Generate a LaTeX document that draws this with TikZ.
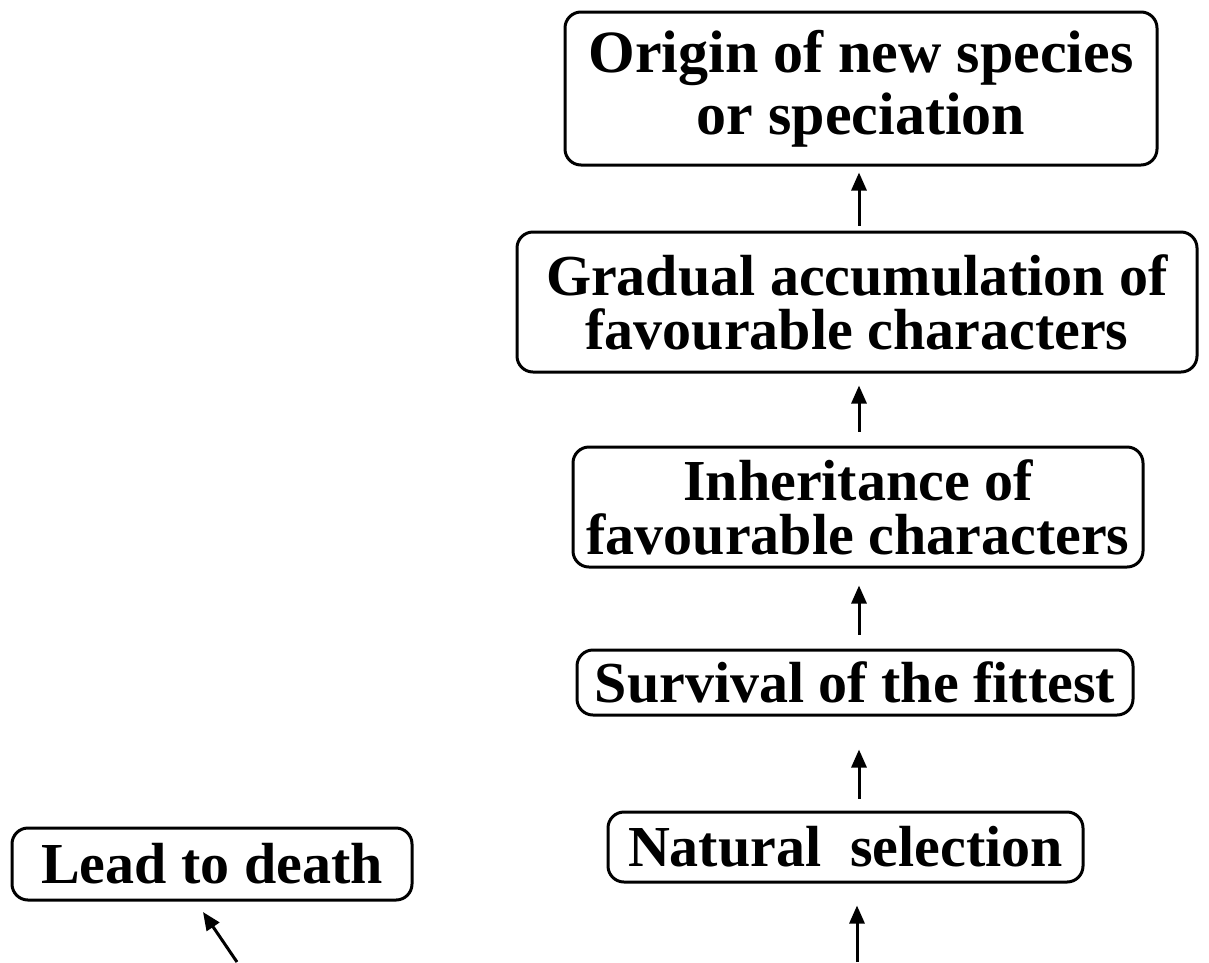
\documentclass[tikz,border=0pt]{standalone}
\usepackage{fontspec}
\setmainfont{Liberation Serif}
\usetikzlibrary{arrows.meta}
\begin{document}
\begin{tikzpicture}[x=1pt,y=-1pt,
  stagebox/.style={draw=black, line width=3pt, rounded corners=16pt, inner sep=0pt,
    align=center, font=\bfseries\fontsize{58}{54}\selectfont},
  arr/.style={line width=3pt, -{Triangle[length=18pt,width=15pt]}}]
\useasboundingbox[fill=white] (0,0) rectangle (1209,962);
\node[stagebox, minimum width=592pt, minimum height=153pt, font=\bfseries\fontsize{60}{62}\selectfont] (origin) at (861,88.5) {Origin of new species\\or speciation};
\node[stagebox, minimum width=680pt, minimum height=140pt] (gradual) at (857,302) {Gradual accumulation of\\favourable characters};
\node[stagebox, minimum width=570pt, minimum height=120pt] (inherit) at (858,507) {Inheritance of\\favourable characters};
\node[stagebox, minimum width=556pt, minimum height=65pt] (survival) at (855,682.5) {Survival of the fittest};
\node[stagebox, minimum width=475pt, minimum height=70pt] (natural) at (845.5,847) {Natural\enspace selection};
\node[stagebox, minimum width=400pt, minimum height=72pt] (lead) at (212,864) {Lead to death};
\coordinate (ax) at (859,0);
\coordinate (bottomfree) at (857,962);
\coordinate (leadfree) at (237,962);
\coordinate (leadtip) at (203,912);
\draw[arr, shorten <=5pt, shorten >=6pt] (gradual.north -| ax) -- (origin.south -| ax);
\draw[arr, shorten <=14pt, shorten >=12pt] (inherit.north -| ax) -- (gradual.south -| ax);
\draw[arr, shorten <=14pt, shorten >=17pt] (survival.north -| ax) -- (inherit.south -| ax);
\draw[arr, shorten <=12pt, shorten >=33pt] (natural.north -| ax) -- (survival.south -| ax);
\draw[arr, shorten >=22pt] (bottomfree) -- (natural.south -| bottomfree);
\draw[arr] (leadfree) -- (leadtip);
\end{tikzpicture}
\end{document}
